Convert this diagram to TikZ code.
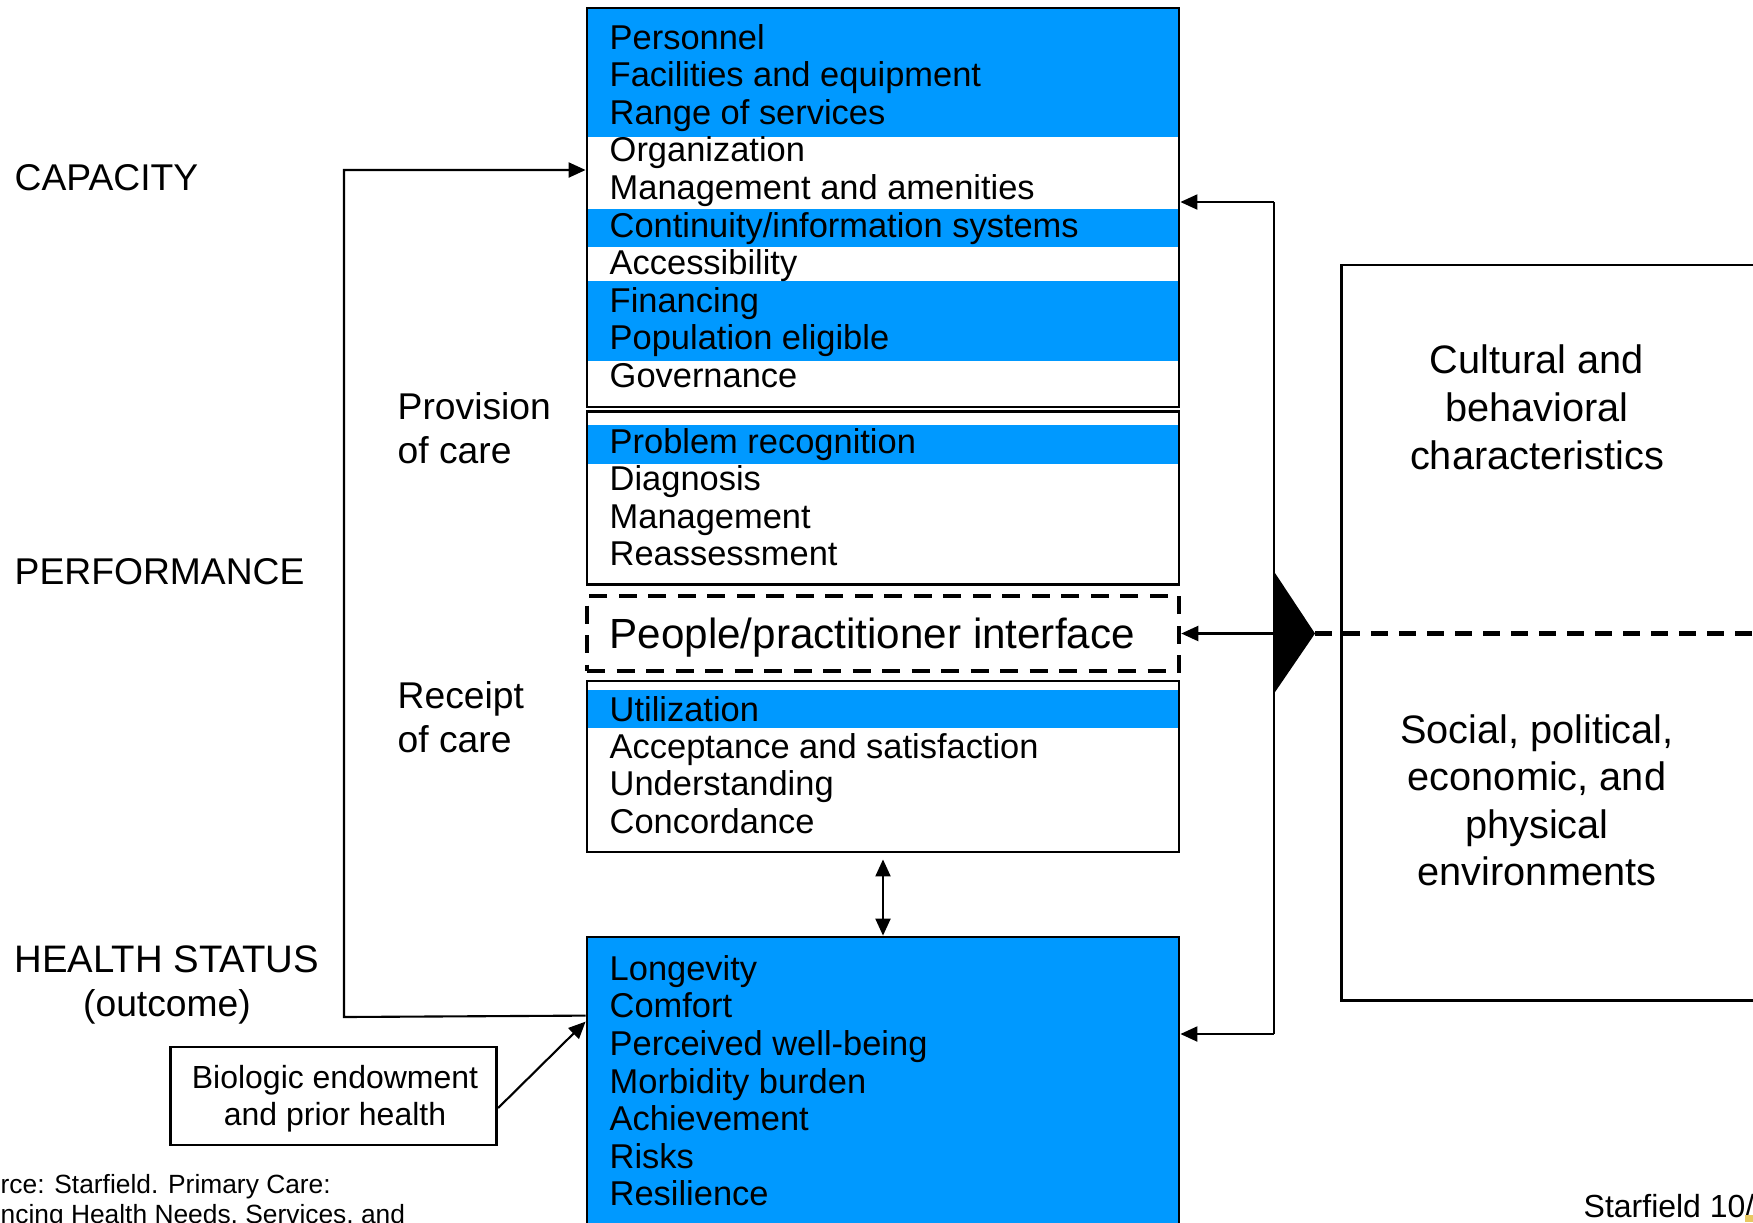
\documentclass[tikz,border=0pt]{standalone}
\usepackage{fontspec}
\setmainfont{Liberation Sans}
\usepackage{tikz}
\usetikzlibrary{arrows.meta,calc}
\definecolor{capblue}{RGB}{0,153,255}
\definecolor{markgold}{RGB}{232,200,96}
\tikzset{>={Triangle[length=1.7mm,width=1.5mm]},
  box/.style={draw,line width=0.8pt,minimum width=59.2mm,inner sep=0},
  item/.style={anchor=base west,inner sep=0,font=\fontsize{9.8}{11}\selectfont},
  lab/.style={anchor=base west,inner sep=0,font=\fontsize{10.6}{12}\selectfont},
  envtext/.style={anchor=base,inner sep=0,font=\fontsize{11.3}{13}\selectfont},
  conn/.style={line width=0.6pt},
}

\begin{document}
\begin{tikzpicture}[x=0.1mm,y=-0.1mm]
  \useasboundingbox (0,0) rectangle (1753,1222);
  \clip (0,0) rectangle (1753,1222);
  % blue bands
  \fill[capblue] (587,8) rectangle (1179,137);
  \fill[capblue] (587,209) rectangle (1179,247);
  \fill[capblue] (587,281) rectangle (1179,361);
  \fill[capblue] (587,425) rectangle (1179,464);
  \fill[capblue] (587,690) rectangle (1179,728);
  % boxes
  \node[box,minimum height=39.9mm] (cap) at (883,207.5) {};
  \node[box,minimum height=17.35mm] (prov) at (883,498) {};
  \node[box,line width=1.3pt,dash pattern=on 1.8mm off 1.15mm,minimum height=7.5mm] (iface) at (883,633.5) {};
  \node[box,minimum height=17.1mm] (rcpt) at (883,766.5) {};
  \node[box,fill=capblue,minimum height=32.3mm] (hlth) at (883,1098.5) {};
  \node[box,minimum width=45.8mm,minimum height=73.56mm] (env) at (1570.85,632.8) {};
  \node[box,minimum width=32.6mm,minimum height=9.8mm] (bio) at (333.7,1096) {};

  % capacity items
  \node[item] (c1) at (609,49) {Personnel};
  \node[item] (c2) at (609,86.6) {Facilities and equipment};
  \node[item] (c3) at (609,124.2) {Range of services};
  \node[item] (c4) at (609,161.8) {Organization};
  \node[item] (c5) at (609,199.4) {Management and amenities};
  \node[item] (c6) at (609,237) {Continuity/information systems};
  \node[item] (c7) at (609,274.6) {Accessibility};
  \node[item] (c8) at (609,312.2) {Financing};
  \node[item] (c9) at (609,349.8) {Population eligible};
  \node[item] (c10) at (609,387.4) {Governance};
  % provision items
  \node[item] (p1) at (609,453) {Problem recognition};
  \node[item] (p2) at (609,490.5) {Diagnosis};
  \node[item] (p3) at (609,528) {Management};
  \node[item] (p4) at (609,565.5) {Reassessment};
  \node[item,font=\fontsize{12}{14}\selectfont] (ifacetext) at (609,648) {People/practitioner interface};
  % receipt items
  \node[item] (r1) at (609,721) {Utilization};
  \node[item] (r2) at (609,758) {Acceptance and satisfaction};
  \node[item] (r3) at (609,795.5) {Understanding};
  \node[item] (r4) at (609,833) {Concordance};
  % health status items
  \node[item] (h1) at (609,980) {Longevity};
  \node[item] (h2) at (609,1017.6) {Comfort};
  \node[item] (h3) at (609,1055) {Perceived well-being};
  \node[item] (h4) at (609,1093) {Morbidity burden};
  \node[item] (h5) at (609,1130.5) {Achievement};
  \node[item] (h6) at (609,1168) {Risks};
  \node[item] (h7) at (609,1205.5) {Resilience};

  % left labels
  \node[lab] (capacity) at (14,190) {CAPACITY};
  \node[lab] (performance) at (14,584) {PERFORMANCE};
  \node[lab,font=\fontsize{10.9}{12}\selectfont] (health) at (14,972) {HEALTH STATUS};
  \node[lab,anchor=base] (outcome) at (167,1016) {(outcome)};
  \node[lab] (provision) at (397,419) {Provision};
  \node[lab] (provcare) at (397,463) {of care};
  \node[lab] (receipt) at (397,708) {Receipt};
  \node[lab] (rcptcare) at (397,752) {of care};

  % right texts
  \node[envtext] (e1) at (1537,373) {Cultural and};
  \node[envtext] (e2) at (1537,421) {behavioral};
  \node[envtext] (e3) at (1537,469) {characteristics};
  \node[envtext] (e4) at (1537,743) {Social, political,};
  \node[envtext] (e5) at (1537,790) {economic, and};
  \node[envtext] (e6) at (1537,838) {physical};
  \node[envtext] (e7) at (1537,885) {environments};

  \node[anchor=base,inner sep=0,font=\fontsize{9.1}{10}\selectfont] (bio1) at (335,1088) {Biologic endowment};
  \node[anchor=base,inner sep=0,font=\fontsize{9.1}{10}\selectfont] (bio2) at (335,1125) {and prior health};

  \node[anchor=base west,inner sep=0,font=\fontsize{7.5}{9}\selectfont] (src1) at (0,1193) {rce: Starfield. Primary Care:};
  \node[anchor=base west,inner sep=0,font=\fontsize{7.5}{9}\selectfont] (src2) at (0,1223) {ncing Health Needs, Services, and};
  \node[anchor=base west,inner sep=0,font=\fontsize{9.1}{11}\selectfont] (stamp) at (1583,1217) {Starfield 10/};
  \fill[markgold] (1745,1215) rectangle (1753,1222);

  % left bracket
  \coordinate (ltop) at (344,170);
  \coordinate (lbot) at (344,1017);
  \draw[conn,->] ([yshift=-8mm]hlth.north west) -- (lbot) -- (ltop) -- (ltop -| cap.west);
  \draw[conn,->] ([yshift=-1.2mm]bio.east) -- ([yshift=-8.6mm]hlth.north west);
  \draw[conn,<->] ([yshift=-0.6mm]rcpt.south) -- (hlth.north);

  % right bracket
  \coordinate (rtop) at (1274,202);
  \coordinate (rmid) at (1274,633.5);
  \coordinate (rbot) at (1274,1034);
  \coordinate (tip) at (1315,633.5);
  \draw[conn] (rtop) -- (rbot);
  \draw[conn,->] (rtop) -- (rtop -| cap.east);
  \draw[conn,->] (rmid) -- (iface.east);
  \draw[conn,->] (rbot) -- (rbot -| hlth.east);
  \fill (1273,570) -- (1273,695) -- (tip) -- cycle;
  \draw[line width=1.2pt,dash pattern=on 1.7mm off 1.1mm] (tip) -- (tip -| 1760,0);
\end{tikzpicture}
\end{document}
